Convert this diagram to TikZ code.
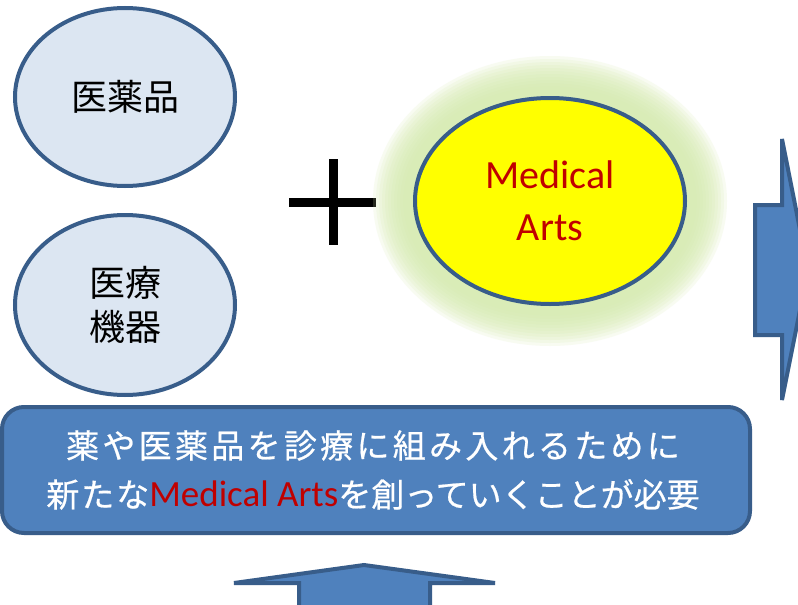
\documentclass[tikz,border=0pt]{standalone}
\usepackage{fontspec}
\setmainfont{Carlito}
\newfontfamily\jp{Noto Sans CJK JP}
\newfontfamily\jpb[LetterSpace=10,FakeBold=0.6]{Noto Sans CJK JP}
\newfontfamily\jpc[LetterSpace=6,FakeBold=0.6]{Noto Sans CJK JP}
\newfontfamily\jpd[FakeBold=0.6]{Noto Sans CJK JP}
\usetikzlibrary{shapes.geometric}
\definecolor{blueF}{HTML}{4F81BD}
\definecolor{blueD}{HTML}{385D8A}
\definecolor{paleB}{HTML}{DCE6F2}
\definecolor{medred}{HTML}{C00000}
\definecolor{glowG}{HTML}{D6ECB0}
\definecolor{yel}{HTML}{FFFF00}
\begin{document}
\begin{tikzpicture}[x=1pt,y=-1pt,
  softell/.style={ellipse, draw=blueD, line width=4pt, fill=paleB, inner sep=0pt,
    minimum width=220pt, font=\fontsize{36}{44}\selectfont\jp, align=center},
  artsell/.style={ellipse, draw=blueD, line width=4pt, fill=yel, inner sep=0pt,
    minimum width=270pt, minimum height=206pt, text=medred,
    font=\fontsize{40}{52}\selectfont, align=center},
  bar/.style={rectangle, rounded corners=22pt, draw=blueD, line width=4pt, fill=blueF,
    minimum width=748pt, minimum height=126pt, inner sep=0pt},
  msg/.style={text=white, align=center, inner sep=0pt, font=\fontsize{33}{49}\selectfont\jpb},
  bigarrow/.style={draw=blueD, line width=4pt, fill=blueF, line join=miter},
  plusbar/.style={line width=9pt, black}]
\useasboundingbox (0,0) rectangle (798,605);
\clip (0,0) rectangle (798,605);
\fill[white] (0,0) rectangle (798,605);

% left ellipses
\node[softell, minimum height=178pt] (drug) at (125,97) {医薬品};
\node[softell, minimum height=180pt] (device) at (125,305) {医療\\機器};

% plus sign
\coordinate (pl) at (289,202); \coordinate (pr) at (376,202);
\coordinate (pt) at (333,159); \coordinate (pb) at (333,245);
\draw[plusbar] (pl) -- (pr);
\draw[plusbar] (pt) -- (pb);

% glow
\foreach \d in {12,15,...,42}
  \fill[glowG, opacity=0.17] (550,201) ellipse [x radius={135+\d}, y radius={103+\d}];
\node[artsell] (arts) at (550,201) {Medical\\Arts};

% right arrow
\draw[bigarrow] (755,205) -- (782,205) -- (782,139) -- (808,270) -- (782,400)
  -- (782,335) -- (755,335) -- cycle;

% bottom bar
\node[bar] (bar) at (376,470) {};
\node[msg] (msg) at (373,470) {薬や医薬品を診療に組み入れるために\\%
  {\jpc 新たな}{\rmfamily\fontsize{37}{49}\selectfont\color{medred}Medical Arts}{\jpd を創っていくことが必要}};

% bottom arrow
\draw[bigarrow] (299,610) -- (299,583) -- (234,583) -- (364,565) -- (495,583)
  -- (430,583) -- (430,610);
\end{tikzpicture}
\end{document}
